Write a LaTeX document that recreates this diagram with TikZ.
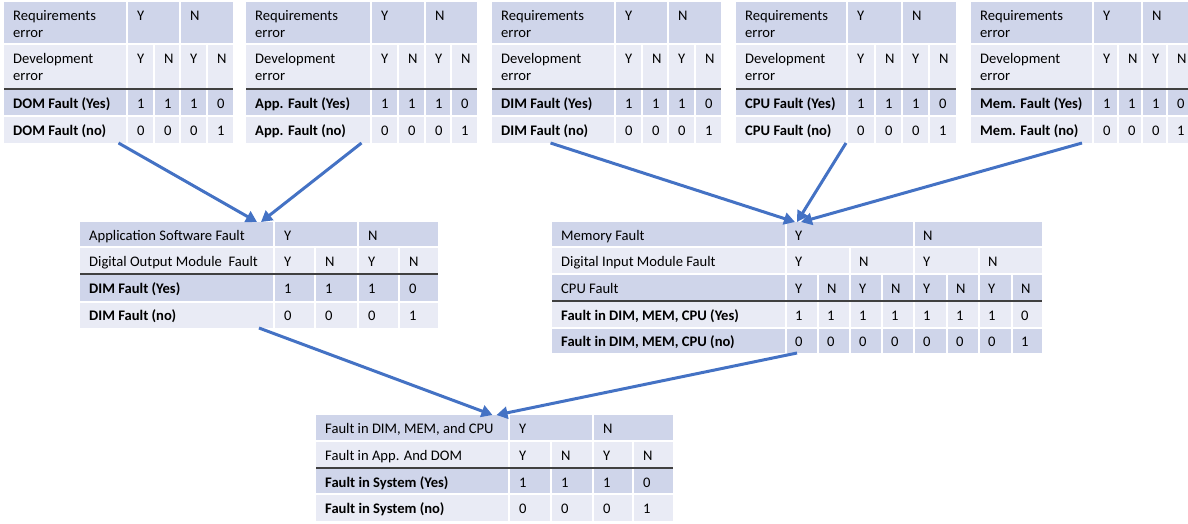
\documentclass[tikz,border=0pt]{standalone}
\usepackage{fontspec}
\setmainfont{Carlito}
\usetikzlibrary{arrows.meta}
\definecolor{bandA}{HTML}{CFD5EA}
\definecolor{bandB}{HTML}{E9EBF5}
\definecolor{linkblue}{HTML}{4472C4}
\tikzset{
  txt/.style={anchor=base west, inner sep=0pt, font=\fontsize{14.6}{17}\selectfont},
  btxt/.style={txt, font=\fontsize{14.6}{17}\selectfont\bfseries},
  sep/.style={draw=white, line width=1.5pt},
  rule/.style={draw=black!75, line width=2pt},
  box/.style={inner sep=0pt, outer sep=0pt, draw=none},
  conn/.style={draw=linkblue, line width=3pt, -{Triangle[length=11pt,width=12pt]}},
}
% Truth table for one component: requirements error x development error.
% #1 name, #2..#7 column edges (left to right), #8 component label
\newcommand\componenttable[8]{%
  \fill[bandA] (#2,2) rectangle (#7,44);
  \fill[bandB] (#2,44) rectangle (#7,89);
  \fill[bandA] (#2,89) rectangle (#7,116);
  \fill[bandB] (#2,116) rectangle (#7,143);
  \draw[sep] (#2,44) -- (#7,44) (#2,116) -- (#7,116)
             (#3,2) -- (#3,143) (#5,2) -- (#5,143)
             (#4,44) -- (#4,143) (#6,44) -- (#6,143);
  \draw[rule] (#2,89) -- (#7,89);
  \node[box, minimum width=#7-#2, minimum height=141, anchor=north west] (#1) at (#2,2) {};
  \node[txt] (#1-req) at (#2+9,20) {\parbox[t]{100pt}{Requirements\\error}};
  \node[txt] (#1-reqY) at (#3+10,20) {Y};
  \node[txt] (#1-reqN) at (#5+10,20) {N};
  \node[txt] (#1-dev) at (#2+9,63) {\parbox[t]{100pt}{Development\\error}};
  \foreach \v/\x [count=\i] in {Y/#3,N/#4,Y/#5,N/#6}
    \node[txt] (#1-dev\i) at (\x+10,63) {\v};
  \node[btxt] (#1-yes) at (#2+9,108) {#8 Fault (Yes)};
  \node[btxt] (#1-no) at (#2+9,135) {#8 Fault (no)};
  \foreach \a/\b/\x [count=\i] in {1/0/#3,1/0/#4,1/0/#5,0/1/#6}{
    \node[txt] (#1-yes\i) at (\x+10,108) {\a};
    \node[txt] (#1-no\i) at (\x+10,135) {\b};
  }
}
\begin{document}
\begin{tikzpicture}[x=1pt,y=-1pt]
\useasboundingbox (0,0) rectangle (1188,523);

% ---- component level ----
\componenttable{dom}{4}{127}{154}{180}{207}{233}{DOM}
\componenttable{app}{246}{371}{398}{425}{451}{477}{App.}
\componenttable{dim}{492}{615}{642}{668}{695}{721}{DIM}
\componenttable{cpu}{736}{847}{875}{902}{929}{956}{CPU}
\componenttable{mem}{971}{1093}{1118}{1142}{1167}{1193}{Mem.}

% ---- output side: application software and digital output module ----
\fill[bandA] (80,222) rectangle (438,247);
\fill[bandB] (80,247) rectangle (438,274);
\fill[bandA] (80,274) rectangle (438,302);
\fill[bandB] (80,302) rectangle (438,328);
\draw[sep] (80,247) -- (438,247) (80,302) -- (438,302)
           (274,222) -- (274,328) (358,222) -- (358,328)
           (315,247) -- (315,328) (399,247) -- (399,328);
\draw[rule] (80,274) -- (438,274);
\node[box, minimum width=358, minimum height=106, anchor=north west] (appsw) at (80,222) {};
\node[txt] (appsw-l1) at (89,240) {Application Software Fault};
\node[txt] (appsw-y) at (284,240) {Y};
\node[txt] (appsw-n) at (368,240) {N};
\node[txt] (appsw-l2) at (89,266.5) {Digital Output Module\ \ Fault};
\node[btxt] (appsw-l3) at (89,293.5) {DIM Fault (Yes)};
\node[btxt] (appsw-l4) at (89,320) {DIM Fault (no)};
\foreach \x/\h/\a/\b [count=\i] in {274/Y/1/0,315/N/1/0,358/Y/1/0,399/N/0/1}{
  \node[txt] (appsw-h\i) at (\x+10,266.5) {\h};
  \node[txt] (appsw-a\i) at (\x+10,293.5) {\a};
  \node[txt] (appsw-b\i) at (\x+10,320) {\b};
}

% ---- input side: memory, digital input module and CPU ----
\fill[bandA] (552,222) rectangle (1042,247);
\fill[bandB] (552,247) rectangle (1042,274);
\fill[bandA] (552,274) rectangle (1042,301);
\fill[bandB] (552,301) rectangle (1042,328);
\fill[bandA] (552,328) rectangle (1042,353);
\draw[sep] (552,247) -- (1042,247) (552,274) -- (1042,274) (552,328) -- (1042,328)
           (786,222) -- (786,353) (914,222) -- (914,353)
           (850,247) -- (850,353) (979,247) -- (979,353)
           (818,274) -- (818,353) (882,274) -- (882,353)
           (947,274) -- (947,353) (1012,274) -- (1012,353);
\draw[rule] (552,301) -- (1042,301);
\node[box, minimum width=490, minimum height=131, anchor=north west] (memtab) at (552,222) {};
\node[txt] (memtab-l1) at (561,240) {Memory Fault};
\node[txt] (memtab-l2) at (561,266.5) {Digital Input Module Fault};
\node[txt] (memtab-l3) at (561,293.5) {CPU Fault};
\node[btxt] (memtab-l4) at (561,320) {Fault in DIM, MEM, CPU (Yes)};
\node[btxt] (memtab-l5) at (561,346.5) {Fault in DIM, MEM, CPU (no)};
\node[txt] (memtab-y) at (795,240) {Y};
\node[txt] (memtab-n) at (923,240) {N};
\foreach \x/\h [count=\i] in {786/Y,850/N,914/Y,979/N}
  \node[txt] (memtab-d\i) at (\x+9,266.5) {\h};
\foreach \x/\h/\a/\b [count=\i] in {786/Y/1/0,818/N/1/0,850/Y/1/0,882/N/1/0,914/Y/1/0,947/N/1/0,979/Y/1/0,1012/N/0/1}{
  \node[txt] (memtab-c\i) at (\x+9,293.5) {\h};
  \node[txt] (memtab-a\i) at (\x+9,320) {\a};
  \node[txt] (memtab-b\i) at (\x+9,346.5) {\b};
}

% ---- system level ----
\fill[bandA] (316,415) rectangle (673,441);
\fill[bandB] (316,441) rectangle (673,468);
\fill[bandA] (316,468) rectangle (673,494);
\fill[bandB] (316,494) rectangle (673,521);
\draw[sep] (316,441) -- (673,441) (316,494) -- (673,494)
           (509,415) -- (509,521) (593,415) -- (593,521)
           (551,441) -- (551,521) (633,441) -- (633,521);
\draw[rule] (316,468) -- (673,468);
\node[box, minimum width=357, minimum height=106, anchor=north west] (sys) at (316,415) {};
\node[txt] (sys-l1) at (325,433.5) {Fault in DIM, MEM, and CPU};
\node[txt] (sys-y) at (519,433.5) {Y};
\node[txt] (sys-n) at (603,433.5) {N};
\node[txt] (sys-l2) at (325,460) {Fault in App. And DOM};
\node[btxt] (sys-l3) at (325,487) {Fault in System (Yes)};
\node[btxt] (sys-l4) at (325,513.5) {Fault in System (no)};
\foreach \x/\h/\a/\b [count=\i] in {509/Y/1/0,551/N/1/0,593/Y/1/0,633/N/0/1}{
  \node[txt] (sys-h\i) at (\x+10,460) {\h};
  \node[txt] (sys-a\i) at (\x+10,487) {\a};
  \node[txt] (sys-b\i) at (\x+10,513.5) {\b};
}

% ---- propagation arrows ----
\draw[conn] (dom.south) -- ([xshift=-2pt]appsw.north);
\draw[conn] (app.south) -- ([xshift=2pt]appsw.north);
\draw[conn] ([xshift=-56pt]dim.south) -- ([xshift=-2pt]memtab.north);
\draw[conn] (cpu.south) -- (memtab.north);
\draw[conn] (mem.south) -- ([xshift=4pt]memtab.north);
\draw[conn] (appsw.south) -- ([xshift=-2pt]sys.north);
\draw[conn] (memtab.south) -- ([xshift=2pt]sys.north);
\end{tikzpicture}
\end{document}
